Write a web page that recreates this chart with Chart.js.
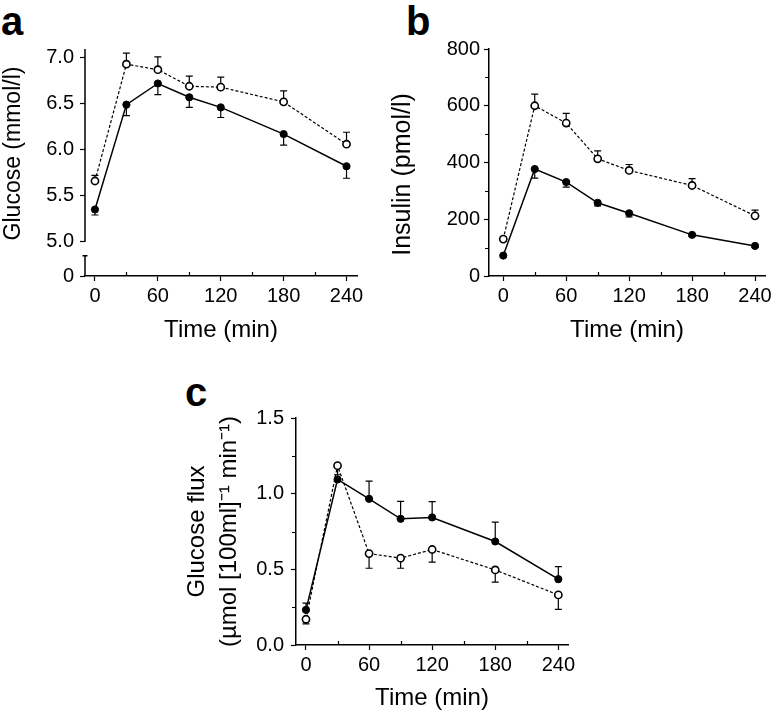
<!DOCTYPE html>
<html><head><meta charset="utf-8">
<script src="https://cdn.jsdelivr.net/npm/chart.js@4/dist/chart.umd.min.js"></script>
<style>
html,body{margin:0;padding:0;background:#fff;}
body{width:776px;height:714px;position:relative;overflow:hidden;font-family:"Liberation Sans",Arial,sans-serif;}
.panel{position:absolute;}
.lbl{position:absolute;font-weight:bold;font-size:40px;line-height:40px;color:#000;font-family:"Liberation Sans",Arial,sans-serif;}
</style></head><body>
<div class="lbl" style="left:1px;top:1px">a</div>
<div class="lbl" style="left:406px;top:1px">b</div>
<div class="lbl" style="left:185px;top:372px">c</div>
<div class="panel" style="left:0;top:0"><canvas id="ca" width="388" height="350"></canvas></div>
<div class="panel" style="left:388px;top:0"><canvas id="cb" width="388" height="350"></canvas></div>
<div class="panel" style="left:180px;top:370px"><canvas id="cc" width="420" height="344"></canvas></div>
<script>
// ---------- data ----------
const timePoints = [0, 30, 60, 90, 120, 180, 240];
const timeTicks = [0, 60, 120, 180, 240];
const timeMinorTicks = [30, 90, 150, 210];

const glucoseOpen      = [5.66, 6.93, 6.87, 6.69, 6.68, 6.52, 6.06];
const glucoseOpenErr   = [0.06, 0.12, 0.14, 0.11, 0.11, 0.12, 0.13];
const glucoseFilled    = [5.35, 6.49, 6.72, 6.57, 6.46, 6.17, 5.82];
const glucoseFilledErr = [0.06, 0.12, 0.12, 0.11, 0.11, 0.12, 0.13];
const glucoseTicks      = [5.0, 5.5, 6.0, 6.5, 7.0];
const glucoseBreakLabel = '0';

const insulinOpen      = [130, 600, 539, 413, 372, 319, 212];
const insulinOpenErr   = [6, 41, 34, 28, 21, 24, 20];
const insulinFilled    = [72, 377, 331, 258, 221, 145, 106];
const insulinFilledErr = [5, 32, 18, 11, 13, 5, 5];
const insulinTicks      = [0, 200, 400, 600, 800];
const insulinMinorTicks = [100, 300, 500, 700];

const fluxFilled    = [0.232, 1.094, 0.966, 0.834, 0.843, 0.684, 0.435];
const fluxFilledErr = [0.045, 0.08, 0.117, 0.115, 0.105, 0.128, 0.083];
const fluxOpen      = [0.170, 1.185, 0.604, 0.574, 0.631, 0.496, 0.331];
const fluxOpenErr   = [0.03, 0.06, 0.097, 0.067, 0.084, 0.081, 0.095];
const fluxTicks      = [0.0, 0.5, 1.0, 1.5];
const fluxMinorTicks = [0.25, 0.75, 1.25];

// ---------- helpers ----------
const FONT = '"Liberation Sans", Arial, sans-serif';
const TICK_SIZE = 20;
const pts = (vals) => timePoints.map((t, i) => ({x: t, y: vals[i]}));

function openSet(vals, errs, dir) {
  return {data: pts(vals), errors: errs, errorDir: dir,
    borderColor: '#000', borderWidth: 1.2, borderDash: [3, 2],
    pointRadius: 3.6, pointBorderWidth: 1.6, pointBackgroundColor: '#fff', pointBorderColor: '#000',
    pointHoverRadius: 3.6, fill: false, tension: 0, order: 2};
}
function filledSet(vals, errs, dir) {
  return {data: pts(vals), errors: errs, errorDir: dir,
    borderColor: '#000', borderWidth: 1.5,
    pointRadius: 3.6, pointBorderWidth: 1, pointBackgroundColor: '#000', pointBorderColor: '#000',
    pointHoverRadius: 3.6, fill: false, tension: 0, order: 1};
}

const errorBarPlugin = {
  id: 'errorBars',
  beforeDatasetsDraw(chart) {
    const ctx = chart.ctx, xs = chart.scales.x, ys = chart.scales.y;
    chart.data.datasets.forEach(ds => {
      if (!ds.errors) return;
      ctx.save();
      ctx.strokeStyle = '#000'; ctx.lineWidth = 1.2; ctx.setLineDash([]);
      ds.data.forEach((p, i) => {
        const x = xs.getPixelForValue(p.x);
        const y0 = ys.getPixelForValue(p.y);
        const y1 = ys.getPixelForValue(p.y + ds.errorDir * ds.errors[i]);
        ctx.beginPath();
        ctx.moveTo(x, y0); ctx.lineTo(x, y1);
        ctx.moveTo(x - 3.5, y1); ctx.lineTo(x + 3.5, y1);
        ctx.stroke();
      });
      ctx.restore();
    });
  }
};

const minorTickPlugin = {
  id: 'minorTicks',
  afterDraw(chart, args, opts) {
    const ctx = chart.ctx, xs = chart.scales.x, ys = chart.scales.y, a = chart.chartArea;
    ctx.save();
    ctx.strokeStyle = '#000'; ctx.lineWidth = 1.2;
    ctx.beginPath();
    (opts.x || []).forEach(v => {
      const x = Math.round(xs.getPixelForValue(v)) + 0.5;
      ctx.moveTo(x, a.bottom); ctx.lineTo(x, a.bottom - 4);
    });
    (opts.y || []).forEach(v => {
      const y = Math.round(ys.getPixelForValue(v)) + 0.5;
      ctx.moveTo(a.left, y); ctx.lineTo(a.left - 4, y);
    });
    ctx.stroke();
    ctx.restore();
  }
};

// broken y axis for panel a
const axisBreakPlugin = {
  id: 'axisBreak',
  afterDraw(chart, args, opts) {
    if (!opts || !opts.enabled) return;
    const ctx = chart.ctx, ys = chart.scales.y, a = chart.chartArea;
    const yBreak = ys.getPixelForValue(opts.value);
    const x = a.left;
    ctx.save();
    ctx.strokeStyle = '#000'; ctx.lineWidth = 1.5;
    ctx.beginPath();
    ctx.moveTo(x, a.top); ctx.lineTo(x, yBreak);
    ctx.moveTo(x, yBreak + opts.gap); ctx.lineTo(x, a.bottom);
    ctx.moveTo(x - 2.5, yBreak + opts.gap); ctx.lineTo(x + 2.5, yBreak + opts.gap);
    ctx.stroke();
    ctx.restore();
  }
};
Chart.register(errorBarPlugin, minorTickPlugin, axisBreakPlugin);

function fixTicks(values) {
  return (scale) => { scale.ticks = values.map(v => ({value: v})); };
}
function fixWidth(w, dy) {
  return (scale) => {
    scale.width = w;
    if (dy && !scale._shiftPatched) {
      const orig = scale.drawTitle.bind(scale);
      scale.drawTitle = function () { const c = this.ctx; c.save(); c.translate(0, dy); orig(); c.restore(); };
      scale._shiftPatched = true;
    }
  };
}
function fixHeight(h) { return (scale) => { scale.height = h; }; }

function xAxis(min, max, h, padBottom) {
  return {
    type: 'linear', min: min, max: max,
    afterBuildTicks: fixTicks(timeTicks), afterFit: fixHeight(h),
    grid: {display: true, drawOnChartArea: false, drawTicks: true, tickLength: 5, tickColor: '#000', tickWidth: 1.2},
    border: {display: true, color: '#000', width: 1.5},
    ticks: {color: '#000', font: {family: FONT, size: TICK_SIZE}, padding: 3, maxRotation: 0, autoSkip: false},
    title: {display: true, text: 'Time (min)', color: '#000', font: {family: FONT, size: 24, lineHeight: 1.2}, padding: {top: 0, bottom: padBottom}}
  };
}

function baseOptions(padding, x, y, plugins) {
  return {
    responsive: false, animation: false,
    layout: {padding: padding},
    plugins: Object.assign({legend: {display: false}, tooltip: {enabled: false}}, plugins),
    scales: {x: x, y: y}
  };
}

// ---------- panel a ----------
const glucoseMin = 4.627, glucoseMax = 7.095;
new Chart(document.getElementById('ca'), {
  type: 'line',
  data: {datasets: [openSet(glucoseOpen, glucoseOpenErr, 1), filledSet(glucoseFilled, glucoseFilledErr, -1)]},
  options: baseOptions({top: 49, right: 31, left: 0, bottom: 0},
    xAxis(-9.5, 250, 74, 5),
    {
      type: 'linear', min: glucoseMin, max: glucoseMax,
      afterBuildTicks: (scale) => { scale.ticks = [{value: glucoseMin}].concat(glucoseTicks.map(v => ({value: v}))); },
      afterFit: fixWidth(85, -9),
      grid: {display: true, drawOnChartArea: false, drawTicks: true, tickLength: 5, tickColor: '#000', tickWidth: 1.2},
      border: {display: false},
      ticks: {color: '#000', font: {family: FONT, size: TICK_SIZE}, padding: 6,
        callback: (v, i) => i === 0 ? glucoseBreakLabel : glucoseTicks[i - 1].toFixed(1)},
      title: {display: true, text: 'Glucose (mmol/l)', color: '#000', font: {family: FONT, size: 23, lineHeight: 1.2}, padding: {top: 0, bottom: 0}}
    },
    {minorTicks: {x: timeMinorTicks}, axisBreak: {enabled: true, value: 5.0, gap: 14}})
});

// ---------- panel b ----------
new Chart(document.getElementById('cb'), {
  type: 'line',
  data: {datasets: [openSet(insulinOpen, insulinOpenErr, 1), filledSet(insulinFilled, insulinFilledErr, -1)]},
  options: baseOptions({top: 49, right: 11, left: 0, bottom: 0},
    xAxis(-13.6, 249.5, 74, 5),
    {
      type: 'linear', min: 0, max: 800,
      afterBuildTicks: fixTicks(insulinTicks),
      afterFit: fixWidth(101, 12),
      grid: {display: true, drawOnChartArea: false, drawTicks: true, tickLength: 5, tickColor: '#000', tickWidth: 1.2},
      border: {display: true, color: '#000', width: 1.5},
      ticks: {color: '#000', font: {family: FONT, size: TICK_SIZE}, padding: 4},
      title: {display: true, text: 'Insulin (pmol/l)', color: '#000', font: {family: FONT, size: 25, lineHeight: 1.2}, padding: {top: 0, bottom: 0}}
    },
    {minorTicks: {x: timeMinorTicks, y: insulinMinorTicks}})
});

// ---------- panel c ----------
new Chart(document.getElementById('cc'), {
  type: 'line',
  data: {datasets: [openSet(fluxOpen, fluxOpenErr, -1), filledSet(fluxFilled, fluxFilledErr, 1)]},
  options: baseOptions({top: 48, right: 32, left: 0, bottom: 0},
    xAxis(-9.5, 249.2, 69, 1),
    {
      type: 'linear', min: 0, max: 1.5,
      afterBuildTicks: fixTicks(fluxTicks),
      afterFit: fixWidth(116, 0),
      grid: {display: true, drawOnChartArea: false, drawTicks: true, tickLength: 5, tickColor: '#000', tickWidth: 1.2},
      border: {display: true, color: '#000', width: 1.5},
      ticks: {color: '#000', font: {family: FONT, size: TICK_SIZE}, padding: 7, callback: (v) => v.toFixed(1)},
      title: {display: true, text: ['Glucose flux', '(\u00b5mol [100ml]\u207b\u00b9 min\u207b\u00b9)'], color: '#000',
        font: {family: FONT, size: 24, lineHeight: 1.33}, padding: {top: 1, bottom: 0}}
    },
    {minorTicks: {x: timeMinorTicks, y: fluxMinorTicks}})
});
</script>
</body></html>
